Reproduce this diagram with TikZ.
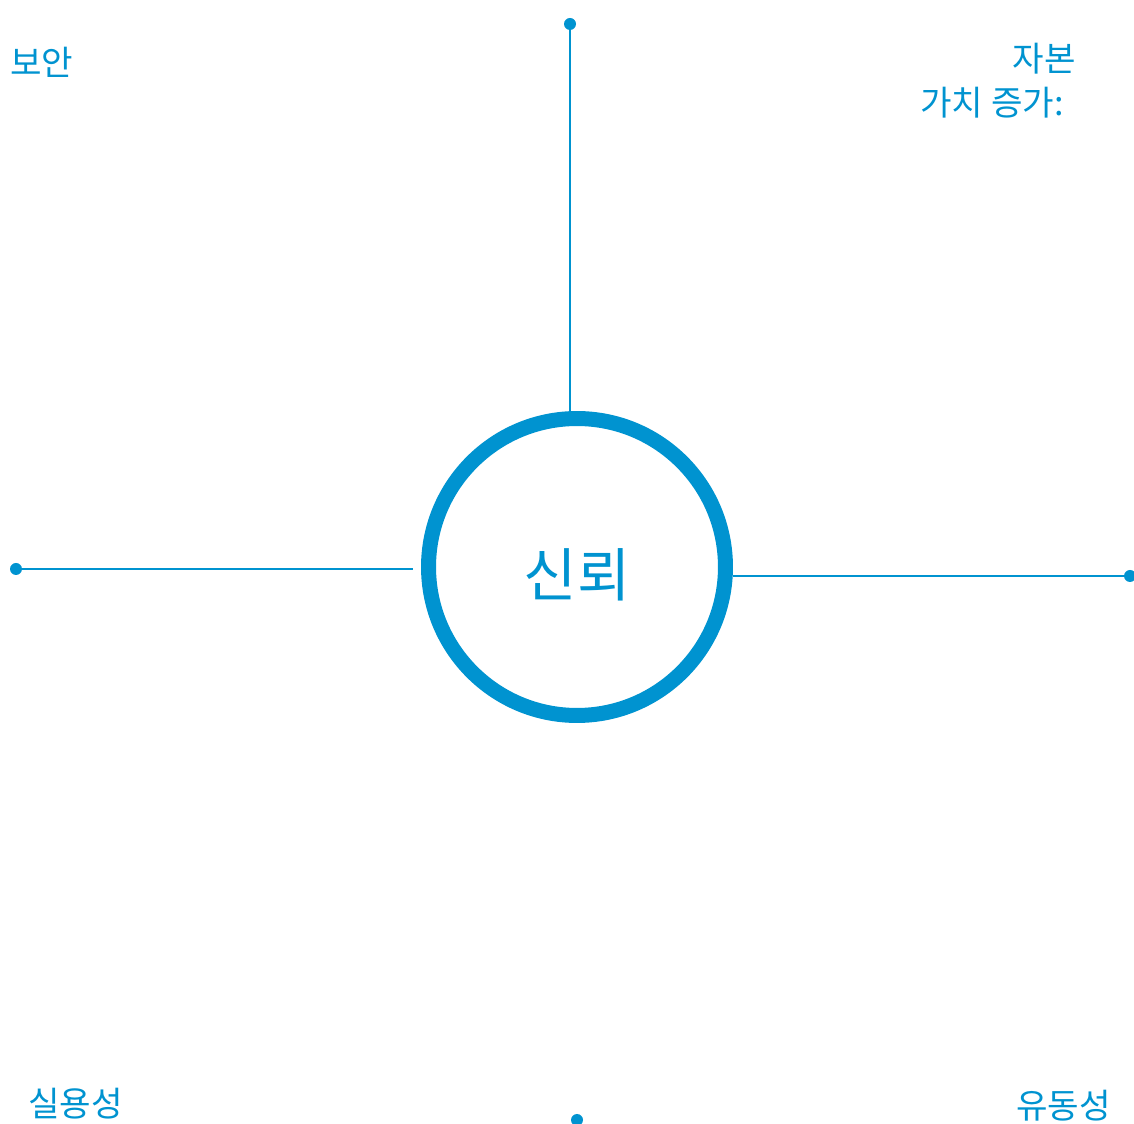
\documentclass[tikz,border=0pt]{standalone}
\usepackage{fontspec}
\setmainfont{Noto Sans CJK KR}
\usepackage{tikz}
\usetikzlibrary{positioning, calc}
\definecolor{trustblue}{RGB}{0,147,208}
\tikzset{
  ring/.style={circle,draw=trustblue,line width=0.3cm,minimum size=5.94cm,inner sep=0pt},
  pin/.style={circle,fill=trustblue,inner sep=0pt,minimum size=0.24cm},
  spoke/.style={draw=trustblue,line width=0.04cm},
  lbl/.style={inner sep=0pt,font=\fontsize{19.5}{23}\selectfont,text=trustblue}
}
\begin{document}
\begin{tikzpicture}[x=0.02cm,y=-0.02cm]
  \useasboundingbox (0,0) rectangle (1134,1124);
  \node[ring] (trust) at (577,567) {};
  \node[font=\fontsize{33}{38}\selectfont,text=trustblue] (trusttext) at (577,575) {신뢰};

  \node[pin] (ptop) at (570,24) {};
  \node[pin] (pleft) at (16,569) {};
  \node[pin] (pright) at (1130,576) {};
  \node[pin] (pbottom) at (577,1120) {};

  \draw[spoke] (ptop.center) -- (ptop.center |- trust.north);
  \draw[spoke,shorten >=0.16cm] (pleft.center) -- (pleft.center -| trust.west);
  \draw[spoke] (pright.center) -- (pright.center -| trust.east);
  \draw[spoke] (pbottom.center) -- (pbottom.center -| trust.south);

  \node[lbl,anchor=base west] (security) at (10,76) {보안};
  \node[lbl,anchor=base east] (capital) at (1076,72) {자본};
  \node[lbl,anchor=base east] (growth) at (1064,116) {가치 증가:};
  \node[lbl,anchor=base west] (utility) at (28,1117) {실용성};
  \node[lbl,anchor=base east] (liquidity) at (1111,1119) {유동성};
\end{tikzpicture}
\end{document}
